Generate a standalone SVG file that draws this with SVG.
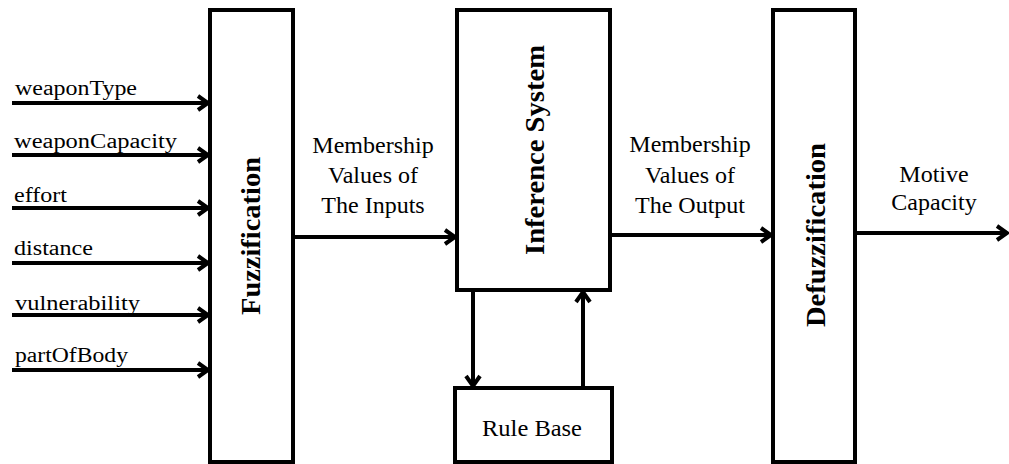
<svg xmlns="http://www.w3.org/2000/svg" width="1009" height="464" viewBox="0 0 1009 464">
  <style>
    .box { fill: #ffffff; stroke: #000000; stroke-width: 4; }
    .wire { fill: none; stroke: #000000; stroke-width: 4; }
    text { font-family: "Liberation Serif", "Times New Roman", serif; fill: #000000; }
    .in { font-size: 20px; }
    .mid { font-size: 24px; text-anchor: middle; }
    .vert { font-size: 27px; font-weight: bold; text-anchor: middle; }
  </style>
  <defs>
    <!-- open chevron arrowhead shared by every connector -->
    <marker id="head" markerUnits="userSpaceOnUse" viewBox="0 0 14 18" refX="12" refY="9" markerWidth="14" markerHeight="18" orient="auto">
      <path d="M2,2 L12,9 L2,16" fill="none" stroke="#000000" stroke-width="4" stroke-linejoin="miter"/>
    </marker>
  </defs>

  <rect width="1009" height="464" fill="#ffffff"/>

  <!-- blocks -->
  <g id="fuzzification">
    <rect class="box" x="210" y="10" width="83" height="452"/>
    <text class="vert" transform="translate(260,236) rotate(-90)" textLength="158" lengthAdjust="spacingAndGlyphs">Fuzzification</text>
  </g>
  <g id="inference">
    <rect class="box" x="457" y="10" width="153" height="280"/>
    <text class="vert" transform="translate(544,150) rotate(-90)" textLength="210" lengthAdjust="spacingAndGlyphs">Inference System</text>
  </g>
  <g id="rulebase">
    <rect class="box" x="455" y="388" width="157" height="74"/>
    <text class="mid" x="532" y="436" font-size="23" style="font-size:23px" textLength="100" lengthAdjust="spacingAndGlyphs">Rule Base</text>
  </g>
  <g id="defuzzification">
    <rect class="box" x="773" y="10" width="82" height="452"/>
    <text class="vert" transform="translate(825,235) rotate(-90)" textLength="184" lengthAdjust="spacingAndGlyphs">Defuzzification</text>
  </g>

  <!-- connectors -->
  <g id="connectors">
    <line class="wire" x1="12" y1="103" x2="208" y2="103" marker-end="url(#head)"/>
    <line class="wire" x1="12" y1="155" x2="208" y2="155" marker-end="url(#head)"/>
    <line class="wire" x1="12" y1="208" x2="208" y2="208" marker-end="url(#head)"/>
    <line class="wire" x1="12" y1="263" x2="208" y2="263" marker-end="url(#head)"/>
    <line class="wire" x1="12" y1="315" x2="208" y2="315" marker-end="url(#head)"/>
    <line class="wire" x1="12" y1="370" x2="208" y2="370" marker-end="url(#head)"/>
    <line class="wire" x1="293" y1="237" x2="455" y2="237" marker-end="url(#head)"/>
    <line class="wire" x1="610" y1="235" x2="771" y2="235" marker-end="url(#head)"/>
    <line class="wire" x1="855" y1="233" x2="1007" y2="233" marker-end="url(#head)"/>
    <line class="wire" x1="473" y1="290" x2="473" y2="386" marker-end="url(#head)"/>
    <line class="wire" x1="583" y1="388" x2="583" y2="292" marker-end="url(#head)"/>
  </g>

  <!-- input labels -->
  <g id="input-labels">
    <text class="in" x="15" y="95" textLength="122" lengthAdjust="spacingAndGlyphs">weaponType</text>
    <text class="in" x="14" y="148" textLength="163" lengthAdjust="spacingAndGlyphs">weaponCapacity</text>
    <text class="in" x="14" y="202" textLength="53" lengthAdjust="spacingAndGlyphs">effort</text>
    <text class="in" x="14" y="255" textLength="79" lengthAdjust="spacingAndGlyphs">distance</text>
    <text class="in" x="15" y="310" textLength="125" lengthAdjust="spacingAndGlyphs">vulnerability</text>
    <text class="in" x="15" y="362" textLength="113" lengthAdjust="spacingAndGlyphs">partOfBody</text>
  </g>

  <!-- connector labels -->
  <g id="flow-labels">
    <text class="mid" x="373" y="153">Membership</text>
    <text class="mid" x="373" y="183">Values of</text>
    <text class="mid" x="373" y="213">The Inputs</text>
    <text class="mid" x="690" y="152">Membership</text>
    <text class="mid" x="690" y="183">Values of</text>
    <text class="mid" x="690" y="213">The Output</text>
    <text class="mid" x="934" y="182">Motive</text>
    <text class="mid" x="934" y="210">Capacity</text>
  </g>
</svg>
